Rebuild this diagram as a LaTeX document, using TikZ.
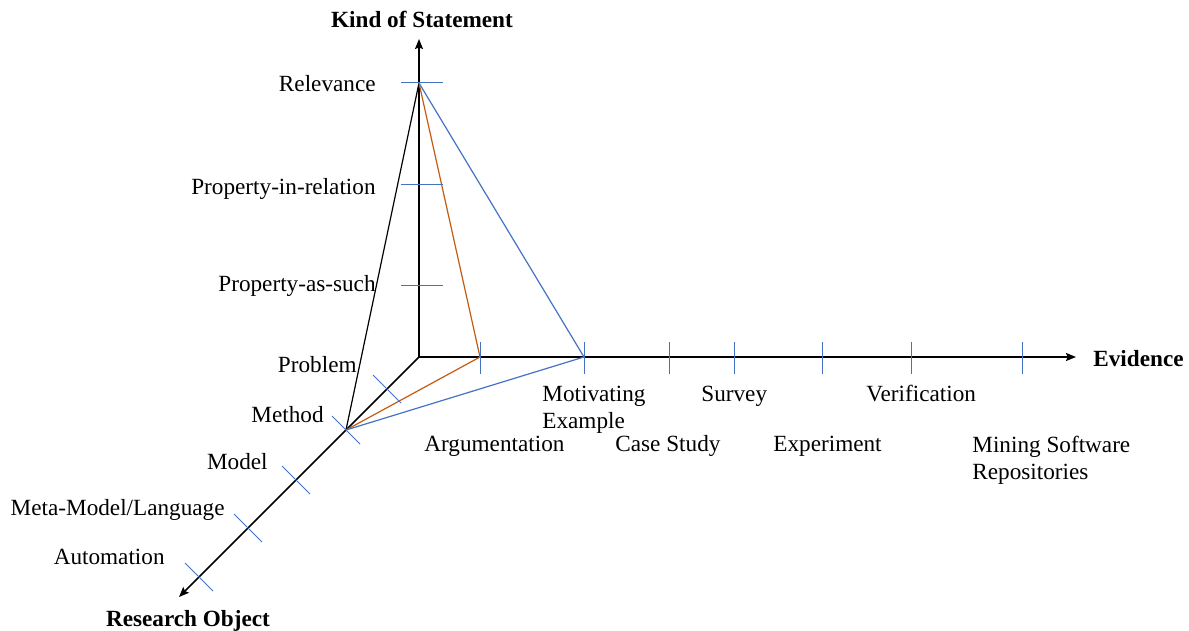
\documentclass[tikz,border=0pt]{standalone}
\usepackage{fontspec}
\setmainfont{Liberation Serif}
\usetikzlibrary{arrows.meta}
\definecolor{tickblue}{HTML}{4472C4}
\definecolor{linkorange}{HTML}{C55A11}
\begin{document}
\begin{tikzpicture}[x=0.5pt,y=-0.5pt,
  axis/.style={line width=0.75pt, black, -{Stealth[length=5pt,width=4pt,inset=0.8pt]}},
  tickmark/.style={draw=tickblue, line width=0.5pt},
  plain/.style={line width=0.6pt},
  lbl/.style={font=\fontsize{11.6}{13.5}\selectfont, inner sep=0pt, text height=0.68em, text depth=0.05em, yshift=-1pt},
  multi/.style={font=\fontsize{11.6}{13.5}\selectfont, inner sep=0pt, align=left, yshift=-1pt},
  ttl/.style={font=\fontsize{11.6}{13.5}\selectfont\bfseries, inner sep=0pt, text height=0.68em, text depth=0.05em, yshift=-1pt}]
\useasboundingbox (0,0) rectangle (1189,631);

% origin and axis ends
\coordinate (O) at (419,357);
\coordinate (ytip) at (419,39);
\coordinate (xtip) at (1076,357);
\coordinate (ztip) at (179,597);

% kind of statement (vertical)
\coordinate (rel) at (419,83);
\coordinate (pir) at (419,184);
\coordinate (pas) at (419,285);

% evidence (horizontal)
\coordinate (arg) at (480,357);
\coordinate (mot) at (584,357);
\coordinate (cs)  at (669,357);
\coordinate (sur) at (734,357);
\coordinate (exp) at (822,357);
\coordinate (ver) at (911,357);
\coordinate (msr) at (1022,357);

% research object (diagonal)
\coordinate (prob) at (387,389);
\coordinate (meth) at (346,430);
\coordinate (mod)  at (296,480);
\coordinate (meta) at (248,528);
\coordinate (auto) at (199,577);

% axes
\draw[axis] (O) -- (ytip);
\draw[axis] (O) -- (xtip);
\draw[axis] (O) -- (ztip);

% triangles spanned between the axes
\draw[plain, black] (rel) -- (meth);
\draw[plain, linkorange] (rel) -- (arg) -- (meth);
\draw[plain, tickblue] (rel) -- (mot) -- (meth);

% tick marks
\foreach \t in {rel,pir,pas}
  \draw[tickmark] (\t) ++(-18,0) -- ++(42,0);
\foreach \t in {arg,mot,cs,sur,exp,ver,msr}
  \draw[tickmark] (\t) ++(0,-15) -- ++(0,32);
\foreach \t in {prob,meth,mod,meta,auto}
  \draw[tickmark] (\t) ++(-14,-14) -- ++(28,28);

% axis titles
\node[ttl] (tks) at (422,19) {Kind of Statement};
\node[ttl, anchor=west] (tev) at (1093,358) {Evidence};
\node[ttl] (tro) at (188,618) {Research Object};

% statement labels
\node[lbl, anchor=east] (lrel) at (376,83) {Relevance};
\node[lbl, anchor=east] (lpir) at (376,186) {Property-in-relation};
\node[lbl, anchor=east] (lpas) at (376,283) {Property-as-such};

% research object labels
\node[lbl, anchor=east] (lprob) at (357,364) {Problem};
\node[lbl, anchor=east] (lmeth) at (324,414) {Method};
\node[lbl, anchor=east] (lmod)  at (268,461) {Model};
\node[lbl, anchor=east] (lmeta) at (225,507) {Meta-Model/Language};
\node[lbl, anchor=east] (lauto) at (165,556) {Automation};

% evidence labels
\node[multi, anchor=north west] (lmot) at (542,384) {Motivating\\Example};
\node[lbl, anchor=west] (lsur) at (701,393) {Survey};
\node[lbl, anchor=west] (lver) at (866,393) {Verification};
\node[lbl, anchor=west] (larg) at (424,443) {Argumentation};
\node[lbl, anchor=west] (lcs)  at (615,443) {Case Study};
\node[lbl, anchor=west] (lexp) at (773,443) {Experiment};
\node[multi, anchor=north west] (lmsr) at (972,434) {Mining Software\\Repositories};
\end{tikzpicture}
\end{document}
